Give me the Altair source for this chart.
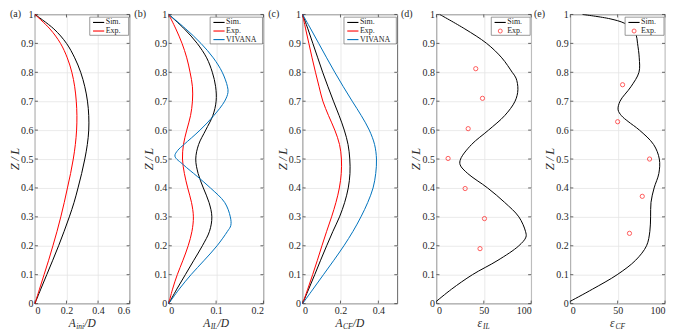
import altair as alt
import pandas as pd

# ---------------- data ----------------
Y_TICKS = [0, 0.1, 0.2, 0.3, 0.4, 0.5, 0.6, 0.7, 0.8, 0.9, 1]
Z_GRID = [0, 0.05, 0.1, 0.15, 0.2, 0.25, 0.3, 0.35, 0.4, 0.45, 0.5,
          0.55, 0.6, 0.65, 0.7, 0.75, 0.8, 0.85, 0.9, 0.95, 1]

# (a) A_ini / D
A_SIM = [0, 0.037, 0.075, 0.113, 0.15, 0.185, 0.218, 0.248, 0.273, 0.296, 0.316,
         0.332, 0.341, 0.341, 0.333, 0.316, 0.29, 0.252, 0.2, 0.12, 0]
A_EXP = [0, 0.029, 0.058, 0.087, 0.114, 0.14, 0.164, 0.186, 0.206, 0.226, 0.243,
         0.256, 0.264, 0.266, 0.262, 0.252, 0.234, 0.205, 0.162, 0.095, 0]

# (b) A_IL / D
B_SIM = [0, 0.017, 0.035, 0.053, 0.071, 0.086, 0.091, 0.085, 0.073, 0.062, 0.057,
         0.063, 0.078, 0.093, 0.1, 0.099, 0.092, 0.08, 0.06, 0.033, 0]
B_EXP = [0, 0.008, 0.018, 0.03, 0.041, 0.049, 0.052, 0.048, 0.04, 0.033, 0.029,
         0.031, 0.038, 0.046, 0.05, 0.05, 0.045, 0.038, 0.028, 0.015, 0]
Z_B_VIV = [0, 0.05, 0.1, 0.15, 0.2, 0.25, 0.27, 0.3, 0.35, 0.4, 0.44, 0.48, 0.51,
           0.53, 0.55, 0.6, 0.65, 0.7, 0.73, 0.75, 0.8, 0.85, 0.9, 0.95, 1]
B_VIV = [0, 0.022, 0.047, 0.075, 0.102, 0.124, 0.131, 0.13, 0.118, 0.088, 0.06, 0.031,
         0.013, 0.019, 0.032, 0.066, 0.095, 0.118, 0.125, 0.124, 0.113, 0.094, 0.068, 0.036, 0]

# (c) A_CF / D
C_SIM = [0, 0.032, 0.064, 0.095, 0.127, 0.16, 0.195, 0.222, 0.241, 0.25, 0.249,
         0.24, 0.22, 0.193, 0.163, 0.134, 0.106, 0.08, 0.054, 0.028, 0]
C_EXP = [0, 0.027, 0.053, 0.078, 0.102, 0.127, 0.153, 0.176, 0.194, 0.204, 0.205,
         0.195, 0.17, 0.137, 0.107, 0.087, 0.068, 0.05, 0.033, 0.016, 0]
C_VIV = [0, 0.055, 0.11, 0.165, 0.218, 0.266, 0.308, 0.344, 0.372, 0.386, 0.39,
         0.38, 0.352, 0.31, 0.262, 0.215, 0.17, 0.127, 0.085, 0.043, 0]

# (d) eps_IL
Z_D = [0.008, 0.05, 0.1, 0.15, 0.2, 0.23, 0.25, 0.3, 0.35, 0.4, 0.45, 0.48, 0.5,
       0.55, 0.6, 0.65, 0.7, 0.74, 0.78, 0.8, 0.85, 0.9, 0.95, 1]
D_SIM = [0, 16, 38, 65, 87, 94.5, 94, 87, 72, 54, 33, 25, 25.5,
         37, 55, 72, 83, 86, 84, 80, 69, 53, 30, 3.5]
D_EXP_Z = [0.19, 0.294, 0.398, 0.502, 0.605, 0.71, 0.8125]
D_EXP = [46, 50.7, 30.3, 12.3, 33.5, 48.6, 41.5]

# (e) eps_CF
Z_E = [0.008, 0.05, 0.1, 0.15, 0.2, 0.25, 0.3, 0.35, 0.4, 0.45, 0.5, 0.55, 0.6,
       0.63, 0.65, 0.67, 0.7, 0.75, 0.8, 0.85, 0.9, 0.93, 0.95, 0.97, 0.985, 1]
E_SIM = [0, 23.5, 49.5, 69, 80.5, 84, 84.8, 85.2, 88.5, 93.5, 94, 88, 73,
         61, 54, 50.5, 52.5, 64, 72.5, 72.8, 71, 69.5, 66, 57, 42, 13]
E_EXP_Z = [0.243, 0.371, 0.5, 0.629, 0.757]
E_EXP = [62.5, 76, 83.7, 50, 55.2]

TICKS_A = [0, 0.2, 0.4, 0.6]
TICKS_B = [0, 0.1, 0.2]
TICKS_C = [0, 0.2, 0.4]
TICKS_D = [0, 50, 100]
TICKS_E = [0, 50, 100]

# ---------------- style ----------------
W, H = 95, 290
FONT = "Liberation Serif"
INK = "#262626"
BOX = "#404040"
COL = {"Sim.": "#000000", "Exp.": "#ff0000", "VIVANA": "#0072bd"}
ONE = pd.DataFrame({"k": [0]})


def panel(tag, curves, points, xdom, xticks, title_pieces, legend_items, tag_x):
    xenc = alt.X("v:Q", scale=alt.Scale(domain=xdom),
                 axis=alt.Axis(values=xticks, labelExpr="'' + datum.value",
                               title=None, grid=True, ticks=False, domain=False,
                               labelOverlap=False, labelPadding=2))
    yenc = alt.Y("Z:Q", scale=alt.Scale(domain=[0, 1]),
                 axis=alt.Axis(values=Y_TICKS, labelExpr="'' + datum.value",
                               title=None, grid=True, ticks=False, domain=False,
                               labelOverlap=False, labelPadding=2))
    layers = []
    ytdf = pd.DataFrame({"Z": Y_TICKS})
    xtdf = pd.DataFrame({"v": xticks})
    tk = dict(color=BOX, strokeWidth=0.8)
    layers.append(alt.Chart(ytdf).mark_rule(**tk).encode(
        y=yenc, x=alt.value(0), x2=alt.value(3)))
    layers.append(alt.Chart(ytdf).mark_rule(**tk).encode(
        y=yenc, x=alt.value(W - 3), x2=alt.value(W)))
    layers.append(alt.Chart(xtdf).mark_rule(**tk).encode(
        x=xenc, y=alt.value(H - 3), y2=alt.value(H)))
    layers.append(alt.Chart(xtdf).mark_rule(**tk).encode(
        x=xenc, y=alt.value(0), y2=alt.value(3)))

    for name, zs, vs in curves:
        df = pd.DataFrame({"Z": zs, "v": vs})
        layers.append(alt.Chart(df).mark_line(
            color=COL[name], strokeWidth=1, interpolate="catmull-rom").encode(
            x=xenc, y=yenc, order=alt.Order("Z:Q")))
    if points is not None:
        zs, vs = points
        df = pd.DataFrame({"Z": zs, "v": vs})
        layers.append(alt.Chart(df).mark_point(
            shape="circle", filled=False, color=COL["Exp."], size=18,
            strokeWidth=0.9).encode(x=xenc, y=yenc))

    # panel tag
    layers.append(alt.Chart(ONE).mark_text(
        text=tag, font=FONT, fontSize=10, color=INK, align="left",
        baseline="middle").encode(x=alt.value(tag_x), y=alt.value(0)))
    # y title
    layers.append(alt.Chart(ONE).mark_text(
        text="Z\u2009/\u2009L", font=FONT, fontSize=12.5, fontStyle="italic",
        color=INK, angle=270, align="center", baseline="middle").encode(
        x=alt.value(-20), y=alt.value(H / 2)))
    # x title with subscript
    total = sum(p[3] for p in title_pieces)
    x0 = W / 2 - total / 2
    for text, size, dy, wdt in title_pieces:
        layers.append(alt.Chart(ONE).mark_text(
            text=text, font=FONT, fontSize=size, fontStyle="italic", color=INK,
            align="left", baseline="alphabetic").encode(
            x=alt.value(x0), y=alt.value(H + 23.5 + dy)))
        x0 += wdt

    # legend
    n = len(legend_items)
    bx1 = 55 if n == 2 else 41.5
    bx2 = 94
    by1 = 2.7
    pitch = 8.6
    by2 = by1 + 5.3 + pitch * (n - 1) + 4.3
    layers.append(alt.Chart(ONE).mark_rect(
        fill="white", stroke="#6e6e6e", strokeWidth=0.7).encode(
        x=alt.value(bx1), x2=alt.value(bx2), y=alt.value(by1), y2=alt.value(by2)))
    for i, (name, kind) in enumerate(legend_items):
        yy = by1 + 5.3 + pitch * i
        if kind == "line":
            layers.append(alt.Chart(ONE).mark_rule(
                color=COL[name], strokeWidth=1.1).encode(
                x=alt.value(bx1 + 3.3), x2=alt.value(bx1 + 14.5), y=alt.value(yy)))
        else:
            layers.append(alt.Chart(ONE).mark_point(
                shape="circle", filled=False, color=COL[name], size=16,
                strokeWidth=0.9).encode(x=alt.value(bx1 + 9), y=alt.value(yy)))
        layers.append(alt.Chart(ONE).mark_text(
            text=name, font=FONT, fontSize=8, color=INK, align="left",
            baseline="middle").encode(x=alt.value(bx1 + 16), y=alt.value(yy)))

    return alt.layer(*layers).properties(width=W, height=H)


A_TITLE = [("A", 11.5, 0, 7.5), ("ini", 7.5, 2, 8.2), ("/D", 11.5, 0, 11.5)]
B_TITLE = [("A", 11.5, 0, 7.5), ("IL", 7.5, 2, 7.0), ("/D", 11.5, 0, 11.5)]
C_TITLE = [("A", 11.5, 0, 7.5), ("CF", 7.5, 2, 9.8), ("/D", 11.5, 0, 11.5)]
D_TITLE = [("ε", 11.5, 0, 5.4), ("IL", 7.5, 2, 7.0)]
E_TITLE = [("ε", 11.5, 0, 5.4), ("CF", 7.5, 2, 9.8)]

LEG2 = [("Sim.", "line"), ("Exp.", "line")]
LEG3 = [("Sim.", "line"), ("Exp.", "line"), ("VIVANA", "line")]
LEGP = [("Sim.", "line"), ("Exp.", "point")]

pa = panel("(a)", [("Sim.", Z_GRID, A_SIM), ("Exp.", Z_GRID, A_EXP)], None,
           [0, 0.6], TICKS_A, A_TITLE, LEG2, -25)
pb = panel("(b)", [("Sim.", Z_GRID, B_SIM), ("Exp.", Z_GRID, B_EXP),
                   ("VIVANA", Z_B_VIV, B_VIV)], None,
           [0, 0.2], TICKS_B, B_TITLE, LEG3, -34.5)
pc = panel("(c)", [("Sim.", Z_GRID, C_SIM), ("Exp.", Z_GRID, C_EXP),
                   ("VIVANA", Z_GRID, C_VIV)], None,
           [0, 0.5], TICKS_C, C_TITLE, LEG3, -34.5)
pd_ = panel("(d)", [("Sim.", Z_D, D_SIM)], (D_EXP_Z, D_EXP),
            [0, 100], TICKS_D, D_TITLE, LEGP, -35.5)
pe = panel("(e)", [("Sim.", Z_E, E_SIM)], (E_EXP_Z, E_EXP),
           [0, 100], TICKS_E, E_TITLE, LEGP, -36.5)

chart = alt.hconcat(pa, pb, pc, pd_, pe, spacing=39.25, bounds="flush").properties(
    padding={"left": 0, "top": 0, "right": 0, "bottom": 0}
).configure_view(
    stroke=BOX, strokeWidth=0.8
).configure_axis(
    labelFont=FONT, labelFontSize=10, labelColor=INK,
    gridColor="#e4e4e4", gridWidth=0.8
)

chart.save("out.html", embed_options={"renderer": "svg", "actions": False})
